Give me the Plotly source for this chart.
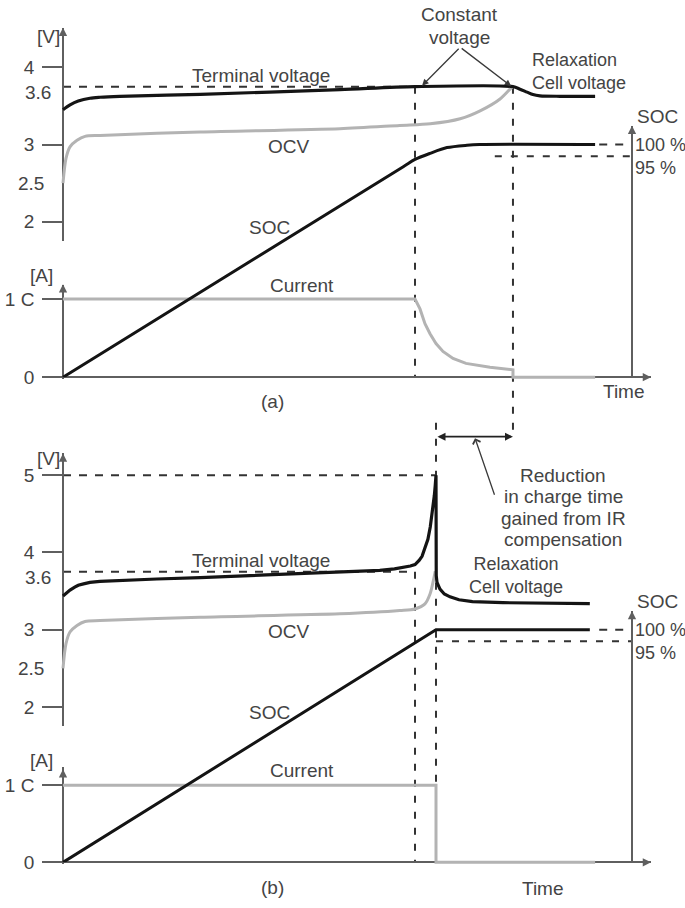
import numpy as np
import plotly.graph_objects as go

# ------------------------------------------------------------------
# Schematic Li-ion charge profiles.
# t in minutes, voltage in V, current in C-rate, state of charge in %.
# ------------------------------------------------------------------

# (a) constant current followed by constant voltage
a_term_t = [0, 1.2, 2.6, 4.6, 6.3, 9.7, 23.4, 47.2, 60.0, 76.7,
            77.9, 79.1, 80.1, 81.3, 84.7, 90.7]
a_term_v = [3.36, 3.41, 3.45, 3.48, 3.49, 3.50, 3.52, 3.57, 3.60, 3.60,
            3.574, 3.543, 3.518, 3.505, 3.50, 3.50]

a_ocv_t = [0, 0.51, 1.19, 2.39, 3.75, 6.31, 23.35, 47.2, 57.4, 62.6,
           67.7, 71.1, 74.5, 76.2, 76.7]
a_ocv_v = [2.50, 2.82, 2.97, 3.044, 3.085, 3.095, 3.13, 3.164, 3.198, 3.215,
           3.267, 3.349, 3.472, 3.574, 3.60]

a_soc_t = [0, 58.0, 60.0, 62.56, 65.46, 68.86, 71.0, 90.7]
a_soc_pct = [0, 90.5, 93.6, 96.2, 98.7, 99.7, 100, 100]

a_cur_t = [0, 60.0, 60.85, 61.7, 62.56, 63.58, 64.77, 66.48, 68.69, 72.78,
           76.7, 76.7, 90.7]
a_cur_c = [1, 1, 0.873, 0.684, 0.557, 0.43, 0.329, 0.24, 0.177, 0.127,
           0.095, 0, 0]

# (b) constant current with IR compensation
b_term_t = [0, 0.6, 1.2, 2.0, 2.6, 3.5, 4.6, 6.3, 9.7, 16.0, 23.4, 35.0, 47.2,
            54.0, 56.5, 58.3, 59.2, 60.0, 60.7, 61.2, 61.7, 62.2, 62.6, 62.9,
            63.15, 63.3, 63.45, 63.58, 63.62, 63.75, 64.26, 65.0, 65.97, 67.5,
            69.8, 75.0, 89.8]
b_term_v = [3.35, 3.385, 3.41, 3.44, 3.46, 3.475, 3.49, 3.50, 3.51, 3.525, 3.54,
            3.57, 3.60, 3.63, 3.66, 3.69, 3.72, 3.75, 3.835, 3.92, 4.05, 4.17,
            4.33, 4.49, 4.615, 4.74, 4.87, 5.00, 3.56, 3.49, 3.42, 3.37, 3.34,
            3.31, 3.29, 3.28, 3.27]

b_ocv_t = [0, 0.51, 1.19, 2.39, 3.75, 6.31, 23.35, 47.2, 57.4, 60.0, 61.7,
           62.56, 63.1, 63.45]
b_ocv_v = [2.50, 2.82, 2.97, 3.044, 3.085, 3.095, 3.13, 3.164, 3.198, 3.215,
           3.267, 3.369, 3.50, 3.61]

b_soc_t = [0, 63.58, 89.8]
b_soc_pct = [0, 100, 100]

b_cur_t = [0, 63.58, 63.58, 90.7]
b_cur_c = [1, 1, 0, 0]

# phase boundaries (minutes)
T_CC_END_A = 60.0
T_CV_END_A = 76.7
T_CHG_END_B = 63.58

# axis tick labels
V_TICKS_A = [2, 3, 4]
V_TICKS_B = [2, 3, 4, 5]
V_MARKS = [2.5, 3.6]          # labelled without a tick mark
I_TICKS = [0, 1]
I_TICK_TEXT = ["0", "1 C"]
SOC_MARKS = [100, 95]
V_CV = 3.6                    # constant-voltage limit
V_PEAK_B = 5.0                # peak terminal voltage with IR compensation

# The sketch's voltage scale is not linear: 3.6 V sits close to 4 V.
V_SCALE_REAL = [0.0, 3.0, 3.6, 4.0, 10.0]
V_SCALE_DRAWN = [0.0, 3.0, 3.75, 4.0, 10.0]


def vd(v):
    return np.interp(np.asarray(v, dtype=float), V_SCALE_REAL, V_SCALE_DRAWN)


# ------------------------------------------------------------------
# Page geometry
# ------------------------------------------------------------------
W, H = 685, 908
T_PX0 = 63.0
PX_PER_MIN = 352.0 / 60.0
X_LEFT_PX, X_RIGHT_PX = 58.0, 651.0
SOC_AXIS_PX = 632.0
PANEL_B = 490                 # vertical offset of panel (b)

FONT = "Liberation Sans, Arial, sans-serif"
TXT = "#444444"
AXC = "#5f5f5f"
BLACK = "#141414"
GREY = "#b3b3b3"
DASHC = "#333333"


def xf(px):
    return px / W


def yf(py):
    return 1.0 - py / H


def t_px(px):
    return (px - T_PX0) / PX_PER_MIN


def axis_geom(top, bottom, ref_px, ref_val, ppu):
    lo = ref_val - (bottom - ref_px) / ppu
    hi = ref_val + (ref_px - top) / ppu
    return dict(domain=[yf(bottom), yf(top)], range=[lo, hi])


AX = {
    "y": axis_geom(28, 243, 68, 4.0, 78),
    "y2": axis_geom(288, 383, 381, 0.0, 79),
    "y3": axis_geom(127, 381, 381, 0.0, 2.35),
    "y4": axis_geom(458, 733, 558, 4.0, 78),
    "y5": axis_geom(775, 873, 871, 0.0, 78),
    "y6": axis_geom(617, 871, 871, 0.0, 2.35),
}


def ypaper(ax, val):
    d0, d1 = AX[ax]["domain"]
    r0, r1 = AX[ax]["range"]
    return d0 + (val - r0) / (r1 - r0) * (d1 - d0)


SOC_AXIS_T = t_px(SOC_AXIS_PX)
T_END = t_px(X_RIGHT_PX)

fig = go.Figure()


def curve(t, y, xa, ya, color, width=3, shape="linear"):
    fig.add_trace(go.Scatter(
        x=list(t), y=list(y), xaxis=xa, yaxis=ya, mode="lines",
        line=dict(color=color, width=width, shape=shape, smoothing=0.8),
        hoverinfo="skip", showlegend=False))


# panel (a)
curve(a_ocv_t, vd(a_ocv_v), "x", "y", GREY, 3, "spline")
curve(a_term_t, vd(a_term_v), "x", "y", BLACK, 3.2, "spline")
curve(a_cur_t, a_cur_c, "x", "y2", GREY, 3)
curve(a_soc_t, a_soc_pct, "x", "y3", BLACK, 3, "spline")
# panel (b)
curve(b_ocv_t, vd(b_ocv_v), "x2", "y4", GREY, 3, "spline")
curve(b_term_t, vd(b_term_v), "x2", "y4", BLACK, 3.2)
curve(b_cur_t, b_cur_c, "x2", "y5", GREY, 3)
curve(b_soc_t, b_soc_pct, "x2", "y6", BLACK, 3)

# ------------------------------------------------------------------
# dashed guide lines
# ------------------------------------------------------------------
shapes = []


def guide(x0, x1, y0, y1, xref, yref, dash="8px,8px"):
    shapes.append(dict(type="line", x0=x0, x1=x1, y0=y0, y1=y1,
                       xref=xref, yref=yref, layer="below",
                       line=dict(color=DASHC, width=2, dash=dash)))


VDASH = "7px,9px"
# (a)
guide(0, T_CC_END_A, vd(V_CV), vd(V_CV), "x", "y")
guide(T_CC_END_A, T_CC_END_A, ypaper("y", vd(V_CV)), ypaper("y2", 0), "x", "paper", VDASH)
guide(T_CV_END_A, T_CV_END_A, ypaper("y", vd(V_CV)), ypaper("y4", vd(5.5)), "x", "paper", VDASH)
guide(73.6, SOC_AXIS_T, 95, 95, "x", "y3", "7px,9px")
guide(91.4, SOC_AXIS_T, 100, 100, "x", "y3")
# (b)
guide(0, T_CHG_END_B, vd(V_PEAK_B), vd(V_PEAK_B), "x2", "y4")
guide(0, T_CC_END_A, vd(V_CV), vd(V_CV), "x2", "y4")
guide(T_CC_END_A, T_CC_END_A, ypaper("y4", vd(V_CV)), ypaper("y5", 0), "x2", "paper", VDASH)
guide(T_CHG_END_B, T_CHG_END_B, ypaper("y4", vd(5.68)), ypaper("y5", 1.0), "x2", "paper", VDASH)
guide(T_CHG_END_B, SOC_AXIS_T, 95, 95, "x2", "y6", "7px,9px")
guide(91.4, SOC_AXIS_T, 100, 100, "x2", "y6")

# ------------------------------------------------------------------
# text and arrows
# ------------------------------------------------------------------
ann = []


def label(text, x, y, xanchor="center", size=19, align="center"):
    ann.append(dict(text=text, x=xf(x), y=yf(y), xref="paper", yref="paper",
                    xanchor=xanchor, yanchor="middle", showarrow=False, align=align,
                    font=dict(family=FONT, size=size, color=TXT)))


def axis_label(text, x_px, val, yref, yshift=0, xanchor="right", size=19):
    ann.append(dict(text=text, x=xf(x_px), y=val, xref="paper", yref=yref,
                    xanchor=xanchor, yanchor="middle", yshift=yshift, align="left",
                    showarrow=False, font=dict(family=FONT, size=size, color=TXT)))


def axis_arrow(x_px, y_px, dx, dy):
    ann.append(dict(text="", x=xf(x_px), y=yf(y_px), xref="paper", yref="paper",
                    ax=dx, ay=dy, axref="pixel", ayref="pixel", showarrow=True,
                    arrowhead=2, arrowsize=1.1, arrowwidth=1.5, arrowcolor=AXC))


for off, tag, time_xy, vtop in ((0, "(a)", (624, 395), 28), (PANEL_B, "(b)", (543, 897), 458)):
    axis_arrow(T_PX0, vtop, 0, 12)
    axis_arrow(T_PX0, 287 + off, 0, 12)
    axis_arrow(X_RIGHT_PX, 381 + off, -12, 0)
    axis_arrow(SOC_AXIS_PX, 127 + off, 0, 12)
    label("[A]", 41, 278 + off)
    label("Terminal voltage", 261, 76 + off)
    label("OCV", 289, 148 + off)
    label("SOC", 269, 230 + off)
    label("Current", 302, 288 + off)
    label(tag, 272, 406 + off)
    label("Time", *time_xy)
    label("SOC", 657, 118 + off)

label("[V]", 48, 37)
label("[V]", 48, 463)

# voltage labels without tick marks
for ya in ("y", "y4"):
    axis_label("3.6", 53, float(vd(V_MARKS[1])), ya, yshift=-6)
    axis_label("2.5", 46, float(vd(V_MARKS[0])), ya)

# SOC labels (first line sits on the 100 % level)
SOC_FONT = 18
soc_text = "<br>".join(f"{m} %" for m in SOC_MARKS)
for ya in ("y3", "y6"):
    axis_label(soc_text, 633, SOC_MARKS[0], ya, -SOC_FONT * 1.3 / 2, "left", SOC_FONT)

# (a) annotations
label("Constant", 460, 15)
label("voltage", 460, 38)
for head_t, head_v in ((61.2, 3.62), (76.4, 3.61)):
    ann.append(dict(text="", x=head_t, y=float(vd(head_v)), xref="x", yref="y",
                    ax=67.7, ay=float(vd(4.26)), axref="x", ayref="y",
                    showarrow=True, arrowhead=2, arrowsize=1, arrowwidth=1.3,
                    arrowcolor="#3a3a3a"))
label("Relaxation<br>Cell voltage", 530, 72, "left", 18, "left")

# (b) annotations
label("Relaxation<br>Cell voltage", 516, 581, "center", 18)
for i, line in enumerate(["Reduction", "in charge time", "gained from IR", "compensation"]):
    label(line, 563, 480 + i * 21.7)

y_span = ypaper("y4", vd(5.5))
ann.append(dict(text="", x=T_CV_END_A, y=y_span, xref="x2", yref="paper",
                ax=T_CHG_END_B, ay=0, axref="x2", ayref="pixel",
                showarrow=True, arrowside="end+start", arrowhead=2, startarrowhead=2,
                arrowsize=1, startarrowsize=1, arrowwidth=1.6, arrowcolor="#222222"))
ann.append(dict(text="", x=t_px(475), y=ypaper("y4", vd(5.48)), xref="x2", yref="paper",
                ax=20, ay=58, axref="pixel", ayref="pixel", showarrow=True,
                arrowhead=4, arrowsize=1.2, arrowwidth=1.3, arrowcolor="#3a3a3a"))

# ------------------------------------------------------------------
# axes
# ------------------------------------------------------------------
tickfont = dict(family=FONT, size=19, color=TXT)
common = dict(showgrid=False, zeroline=False, fixedrange=True, layer="below traces",
              showline=True, linecolor=AXC, linewidth=1.6)


def v_axis(name, ticks):
    return dict(domain=AX[name]["domain"], range=AX[name]["range"], anchor="free",
                position=xf(T_PX0), ticks="outside", ticklen=20, tickwidth=1.6,
                tickcolor=AXC, tickmode="array", tickvals=[float(v) for v in vd(ticks)],
                ticktext=[str(v) for v in ticks], tickfont=tickfont,
                ticklabelstandoff=4, **common)


def i_axis(name):
    return dict(domain=AX[name]["domain"], range=AX[name]["range"], anchor="free",
                position=xf(T_PX0), ticks="outside", ticklen=20, tickwidth=1.6,
                tickcolor=AXC, tickmode="array", tickvals=I_TICKS, ticktext=I_TICK_TEXT,
                tickfont=tickfont, ticklabelstandoff=4, **common)


def soc_axis(name):
    return dict(domain=AX[name]["domain"], range=AX[name]["range"], anchor="free",
                position=xf(SOC_AXIS_PX), ticks="", showticklabels=False, **common)


def t_axis(pos_px):
    return dict(domain=[xf(X_LEFT_PX), xf(X_RIGHT_PX)], range=[t_px(X_LEFT_PX), T_END],
                anchor="free", position=yf(pos_px), ticks="", showticklabels=False,
                **common)


fig.update_layout(
    width=W, height=H, margin=dict(l=0, r=0, t=0, b=0),
    paper_bgcolor="white", plot_bgcolor="rgba(0,0,0,0)",
    xaxis=t_axis(381), xaxis2=t_axis(381 + PANEL_B),
    yaxis=v_axis("y", V_TICKS_A), yaxis2=i_axis("y2"), yaxis3=soc_axis("y3"),
    yaxis4=v_axis("y4", V_TICKS_B), yaxis5=i_axis("y5"), yaxis6=soc_axis("y6"),
    shapes=shapes, annotations=ann, showlegend=False,
    font=dict(family=FONT, color=TXT),
)

fig.write_html("out.html")
